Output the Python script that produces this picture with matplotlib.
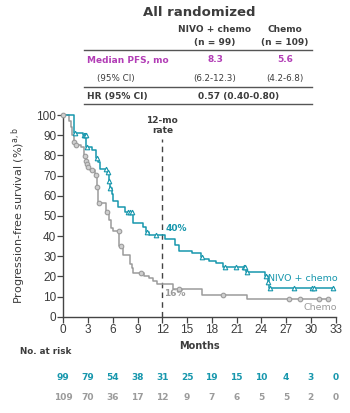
import numpy as np
import matplotlib
matplotlib.use("Agg")
import matplotlib.pyplot as plt

# Kaplan-Meier step data (months, % progression-free)
nivo_t = [0, 1.3, 2.4, 2.8, 3.5, 4.0, 4.2, 4.45, 5.3, 5.5, 5.65, 5.85, 6.06, 6.67,
          7.5, 8.4, 8.5, 9.7, 10.0, 10.4, 12.3, 13.5, 14.0, 15.6, 16.65, 16.9,
          17.6, 18.5, 19.3, 22.2, 24.5, 24.75, 24.95]
nivo_s = [100, 91.2, 90.2, 84.1, 82.6, 78.5, 76.8, 73.0, 71.5, 67.5, 64.0, 61.0, 57.5, 54.6,
          51.7, 49.4, 46.6, 44.5, 42.2, 40.4, 38.3, 35.5, 32.6, 31.4, 29.7, 28.4,
          27.6, 26.5, 24.8, 22.3, 20.0, 17.0, 14.3]
nivo_end = 32.8
nivo_cens = [1.45, 2.45, 2.6, 2.7, 2.85, 4.1, 5.15, 5.4, 5.55, 5.65, 7.9, 8.1, 8.3,
             10.1, 11.2, 16.8, 19.6, 20.9, 21.9, 22.05, 22.25, 24.6, 24.8, 25.05,
             27.9, 30.1, 30.4, 32.7]

chemo_t = [0, 0.73, 0.89, 1.1, 1.29, 1.5, 2.2, 2.45, 2.7, 2.85, 3.0, 3.2, 3.84, 4.05,
           4.24, 4.3, 5.17, 5.58, 5.74, 5.98, 6.79, 7.19, 8.1, 8.3, 8.45, 9.8, 10.4,
           10.9, 11.3, 13.3, 16.8, 22.3]
chemo_s = [100, 97, 94, 90, 86.5, 85, 84, 79.5, 77, 75.5, 74, 72.5, 70.2, 64.1,
           57.0, 56.2, 52, 48, 44, 42.3, 35.0, 30.6, 26, 24, 21.6, 20.3, 19.0,
           17.6, 16.0, 13.6, 10.6, 8.6]
chemo_end = 32.25
chemo_cens = [0, 1.3, 1.5, 2.6, 2.8, 2.9, 3.05, 3.45, 4.0, 4.1, 4.35, 5.35, 6.75,
              6.95, 9.4, 14.0, 19.4, 27.4, 28.7, 31.0, 32.1]

risk_times = [0, 3, 6, 9, 12, 15, 18, 21, 24, 27, 30, 33]
nivo_risk = [99, 79, 54, 38, 31, 25, 19, 15, 10, 4, 3, 0]
chemo_risk = [109, 70, 36, 17, 12, 9, 7, 6, 5, 5, 2, 0]

teal = '#1797ad'
grey = '#9b9b9b'
magenta = '#b23db6'
dark = '#3c3c3c'

W, H = 350, 413
fig = plt.figure(figsize=(W / 100, H / 100), dpi=100)
plt.rcParams['font.family'] = ['DejaVu Sans']


def px(x, y):
    # pixel position in the picture -> figure fraction
    return x / W, 1 - y / H


def ftext(x, y, s, **kw):
    fx, fy = px(x, y)
    fig.text(fx, fy, s, va='center', **kw)


# table on top
ftext(199, 12, 'All randomized', ha='center', fontsize=9.5, fontweight='bold', color=dark)
ftext(215, 30, 'NIVO + chemo', ha='center', fontsize=6.5, fontweight='bold', color=dark)
ftext(215, 43, '(n = 99)', ha='center', fontsize=6.5, fontweight='bold', color=dark)
ftext(285, 30, 'Chemo', ha='center', fontsize=6.5, fontweight='bold', color=dark)
ftext(285, 43, '(n = 109)', ha='center', fontsize=6.5, fontweight='bold', color=dark)
ftext(87, 60, 'Median PFS, mo', ha='left', fontsize=6.5, fontweight='bold', color=magenta)
ftext(215, 60, '8.3', ha='center', fontsize=6.5, fontweight='bold', color=magenta)
ftext(285, 60, '5.6', ha='center', fontsize=6.5, fontweight='bold', color=magenta)
ftext(97, 79, '(95% CI)', ha='left', fontsize=6.3, color=dark)
ftext(215, 79, '(6.2-12.3)', ha='center', fontsize=6.3, color=dark)
ftext(285, 79, '(4.2-6.8)', ha='center', fontsize=6.3, color=dark)
ftext(87, 96, 'HR (95% CI)', ha='left', fontsize=6.5, fontweight='bold', color=dark)
ftext(239, 96, '0.57 (0.40-0.80)', ha='center', fontsize=6.5, fontweight='bold', color=dark)
for yy in [50, 87, 104]:
    x0, y0 = px(84, yy)
    x1, _ = px(312, yy)
    fig.add_artist(plt.Line2D([x0, x1], [y0, y0], color='#555555', lw=1.0))

# KM plot
l, b = px(63.3, 316.7)
r, t = px(335.6, 115)
ax = fig.add_axes([l, b, r - l, t - b])


def km(ax, times, surv, end, cens, color, marker, mfc):
    ax.step(times + [end], surv + [surv[-1]], where='post', color=color, lw=1.1,
            clip_on=False, zorder=3)
    idx = np.searchsorted(times, cens, side='right') - 1
    ax.plot(cens, np.array(surv)[idx], ls='none', marker=marker, ms=3.3,
            mfc=mfc, mec=color, mew=0.8, clip_on=False, zorder=4)


km(ax, chemo_t, chemo_s, chemo_end, chemo_cens, grey, 'o', '#cfcfcf')
km(ax, nivo_t, nivo_s, nivo_end, nivo_cens, teal, '^', 'white')

ax.set_xlim(0, 33)
ax.set_ylim(0, 100)
ax.set_xticks(risk_times)
ax.set_yticks(range(0, 101, 10))
for sp in ['top', 'right']:
    ax.spines[sp].set_visible(False)
for sp in ['left', 'bottom']:
    ax.spines[sp].set_color('#444444')
    ax.spines[sp].set_linewidth(1.0)
ax.tick_params(direction='out', length=4, width=0.9, color='#444444',
               labelsize=8.5, labelcolor=dark, pad=1)
for lab in ax.get_xticklabels() + ax.get_yticklabels():
    lab.set_family(['Liberation Sans Narrow', 'Liberation Sans'])

ax.plot([12, 12], [0, 88], ls=(0, (4, 3)), color='#444444', lw=1.0, zorder=2)
ax.text(12, 97.5, '12-mo', ha='center', va='center', fontsize=6.5, fontweight='bold', color=dark)
ax.text(12, 92.5, 'rate', ha='center', va='center', fontsize=6.5, fontweight='bold', color=dark)
ax.text(12.35, 43.5, '40%', ha='left', va='center', fontsize=6.5, fontweight='bold', color=teal)
ax.text(12.25, 11.5, '16%', ha='left', va='center', fontsize=6.5, fontweight='bold', color=grey)
ax.text(33.3, 18.8, 'NIVO + chemo', ha='right', va='center', fontsize=6.8, color=teal)
ax.text(33.2, 4.5, 'Chemo', ha='right', va='center', fontsize=6.8, color=grey)

ax.set_ylabel(r'Progression-free survival (%)$^{\mathrm{a,b}}$', fontsize=8,
              color=dark, labelpad=6)
ax.set_xlabel('Months', fontsize=7, fontweight='bold', color=dark, labelpad=4)

# numbers at risk
ftext(20, 352, 'No. at risk', ha='left', fontsize=6.3, fontweight='bold', color=dark)
for tm, n1, n2 in zip(risk_times, nivo_risk, chemo_risk):
    xx = ax.transData.transform((tm, 0))[0] / fig.dpi / fig.get_figwidth()
    fig.text(xx, 1 - 378 / H, str(n1), ha='center', va='center', fontsize=6.5,
             fontweight='bold', color=teal)
    fig.text(xx, 1 - 397 / H, str(n2), ha='center', va='center', fontsize=6.5,
             fontweight='bold', color=grey)

fig.savefig('out.png', dpi=100, facecolor='white')
